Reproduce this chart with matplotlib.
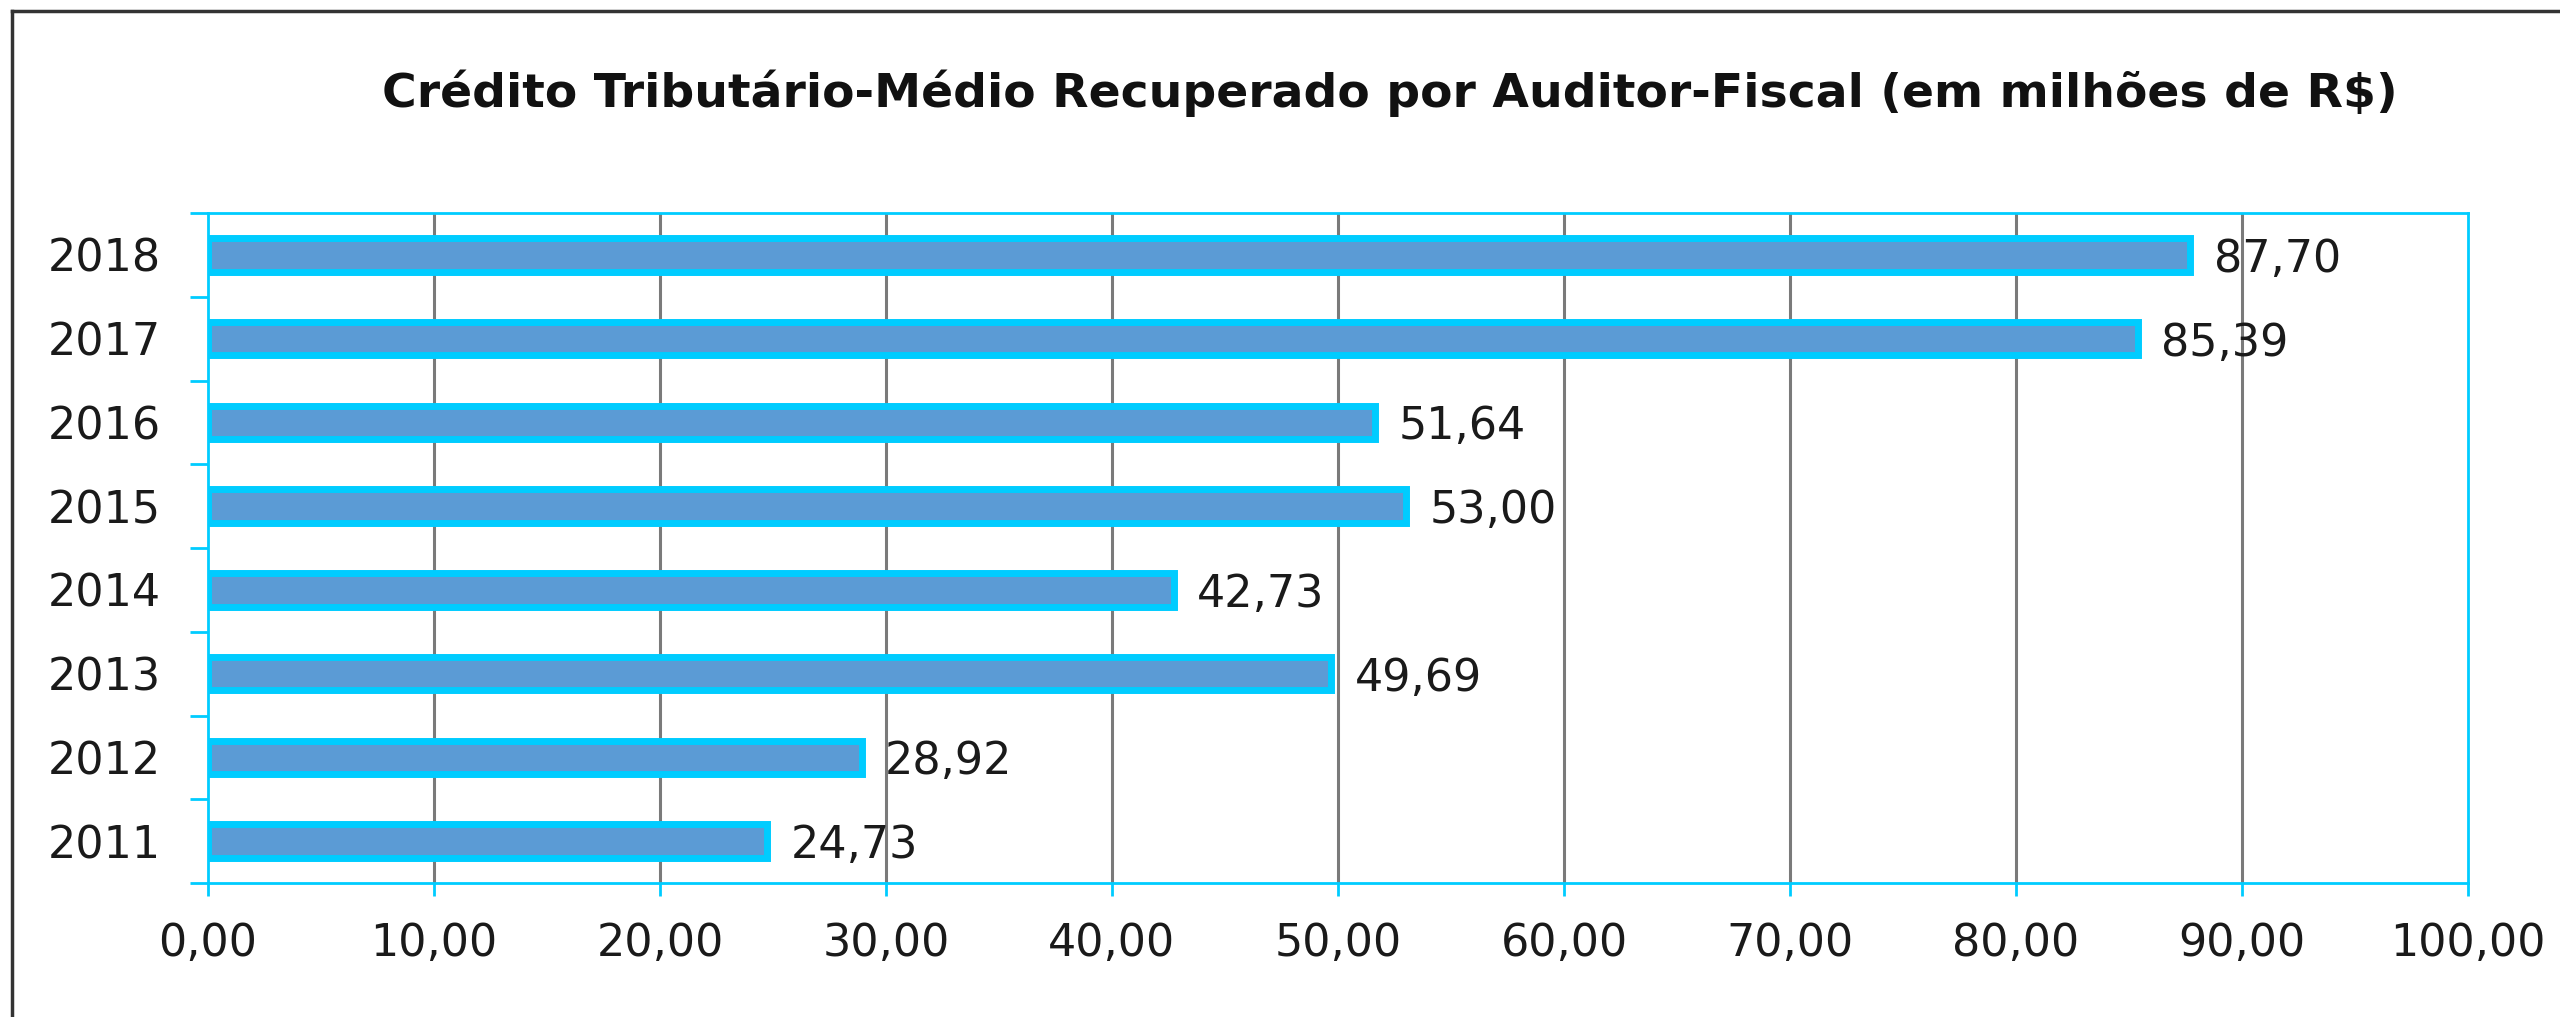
import matplotlib.pyplot as plt
from matplotlib.lines import Line2D

# data
years = ['2011', '2012', '2013', '2014', '2015', '2016', '2017', '2018']
values = [24.73, 28.92, 49.69, 42.73, 53.00, 51.64, 85.39, 87.70]
xticks = [0, 10, 20, 30, 40, 50, 60, 70, 80, 90, 100]

title = 'Crédito Tributário-Médio Recuperado por Auditor-Fiscal (em milhões de R$)'

plt.rcParams['font.family'] = ['DejaVu Sans']

W, H = 2560, 1017
fig = plt.figure(figsize=(W / 100, H / 100), dpi=100)
ax = fig.add_axes([208 / W, 1 - 883 / H, (2468 - 208) / W, (883 - 213) / H])

cyan = '#00CCFF'
fill = '#5B9BD5'
grid = '#7a7a7a'
txt = '#1a1a1a'

pos = list(range(len(years)))
ax.barh(pos, values, height=0.4, color=fill, edgecolor=cyan, linewidth=5, zorder=3)

for p, v in zip(pos, values):
    ax.annotate(f'{v:.2f}'.replace('.', ','), (v, p), xytext=(17, 0),
                textcoords='offset points', va='center_baseline', ha='left',
                fontsize=32, color=txt, zorder=4)

ax.set_xlim(0, 100)
ax.set_ylim(-0.5, len(years) - 0.5)
ax.set_xticks(xticks)
ax.set_xticklabels([f'{t:.2f}'.replace('.', ',') for t in xticks], fontsize=32, color=txt)
ax.set_yticks(pos)
ax.set_yticklabels(years, fontsize=32, color=txt, va='center_baseline')
ax.set_yticks([p - 0.5 for p in pos] + [len(years) - 0.5], minor=True)

ax.tick_params(axis='y', which='major', length=0, pad=34)
ax.tick_params(axis='y', which='minor', length=13, width=2, color=cyan)
ax.tick_params(axis='x', which='major', length=9, width=2, color=cyan, pad=19)

for t in xticks[1:-1]:
    ax.axvline(t, color=grid, linewidth=2.2, zorder=1)

for s in ax.spines.values():
    s.set_color(cyan)
    s.set_linewidth(2)

fig.text(1390 / W, 1 - 93 / H, title, ha='center', va='center',
         fontsize=34, fontweight='bold', color='#111111')

# outer frame (top and left edges only)
fig.add_artist(Line2D([12 / W, 12 / W], [0, 1 - 11 / H], transform=fig.transFigure,
                      color='#333333', linewidth=2.5))
fig.add_artist(Line2D([12 / W, 1], [1 - 11 / H, 1 - 11 / H], transform=fig.transFigure,
                      color='#333333', linewidth=2.5))

fig.savefig('out.png', dpi=100)
